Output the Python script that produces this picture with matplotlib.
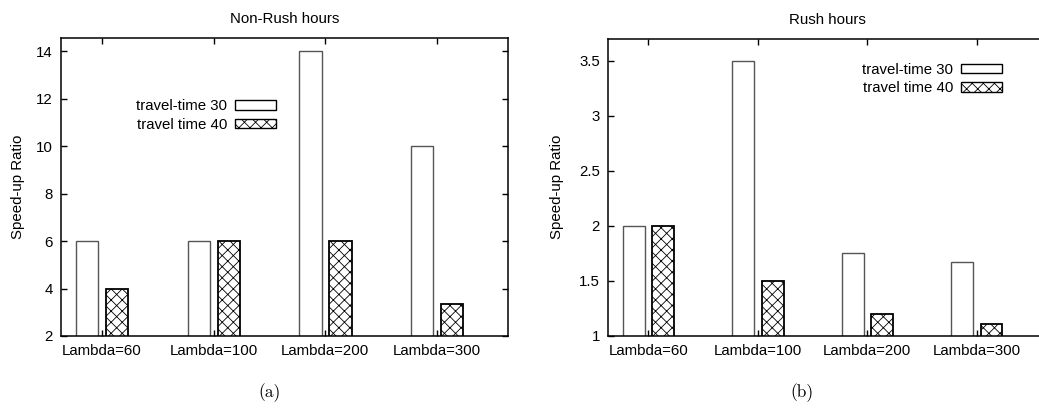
import matplotlib
matplotlib.use("Agg")
import matplotlib.pyplot as plt
import numpy as np
from matplotlib.patches import Patch

plt.rcParams['font.family'] = ['Liberation Sans', 'DejaVu Sans']
plt.rcParams['hatch.linewidth'] = 0.6

categories = ["Lambda=60", "Lambda=100", "Lambda=200", "Lambda=300"]
series_names = ["travel-time 30", "travel time 40"]

nonrush_30 = [6, 6, 14, 10]
nonrush_40 = [4, 6, 6, 3.33]
rush_30 = [2, 3.5, 1.75, 1.67]
rush_40 = [2, 1.5, 1.2, 1.11]

nonrush_ticks = [2, 4, 6, 8, 10, 12, 14]
rush_ticks = [1, 1.5, 2, 2.5, 3, 3.5]
rush_ticklabels = ["1", "1.5", "2", "2.5", "3", "3.5"]

FS = 10.8
HATCH = "xxx"

fig = plt.figure(figsize=(10.39, 4.09), dpi=100)
ax1 = fig.add_axes([0.0587, 0.1785, 0.4302, 0.7286])
ax2 = fig.add_axes([0.5855, 0.1785, 0.4213, 0.7262])


def draw_panel(ax, s30, s40, ylim, yticks, yticklabels, title, leg_xy):
    x = np.arange(len(categories))
    w = 0.2
    ax.bar(x - 0.132, s30, w, color="white", edgecolor="#555555",
           linewidth=1.0, zorder=2)
    ax.bar(x + 0.136, s40, w, color="white", edgecolor="black",
           linewidth=1.3, hatch=HATCH, zorder=2)
    ax.set_xlim(-0.365, 3.635)
    ax.set_ylim(*ylim)
    ax.set_xticks(x)
    ax.set_xticklabels(categories, fontsize=FS)
    ax.set_yticks(yticks)
    ax.set_yticklabels(yticklabels, fontsize=FS)
    ax.tick_params(direction="in", length=4, width=1.0, top=True, right=True,
                   pad=6)
    ax.tick_params(axis="x", pad=6)
    for sp in ax.spines.values():
        sp.set_linewidth(1.1)
        sp.set_zorder(3)
    ax.set_title(title, fontsize=FS, pad=11)
    handles = [Patch(facecolor="white", edgecolor="black", linewidth=1.0),
               Patch(facecolor="white", edgecolor="black", linewidth=1.0,
                     hatch=HATCH)]
    ax.legend(handles, series_names, loc="upper left", bbox_to_anchor=leg_xy,
              frameon=False, markerfirst=False, fontsize=FS,
              handlelength=2.75, handleheight=0.6, handletextpad=0.5,
              labelspacing=0.3, borderpad=0, borderaxespad=0)


draw_panel(ax1, nonrush_30, nonrush_40, (2, 14.55), nonrush_ticks,
           [str(t) for t in nonrush_ticks], "Non-Rush hours", (0.168, 0.795))
draw_panel(ax2, rush_30, rush_40, (1, 3.7), rush_ticks, rush_ticklabels,
           "Rush hours", (0.58, 0.92))

fig.text(18 / 1039, 1 - 187 / 409, "Speed-up Ratio", rotation=90,
         ha="center", va="center", fontsize=FS)
fig.text(557 / 1039, 1 - 187 / 409, "Speed-up Ratio", rotation=90,
         ha="center", va="center", fontsize=FS)

fig.text(270 / 1039, 1 - 393 / 409, "(a)", ha="center", va="center",
         fontsize=12.5, family="cmr10")
fig.text(802 / 1039, 1 - 393 / 409, "(b)", ha="center", va="center",
         fontsize=12.5, family="cmr10")

fig.savefig("out.png", dpi=100)
